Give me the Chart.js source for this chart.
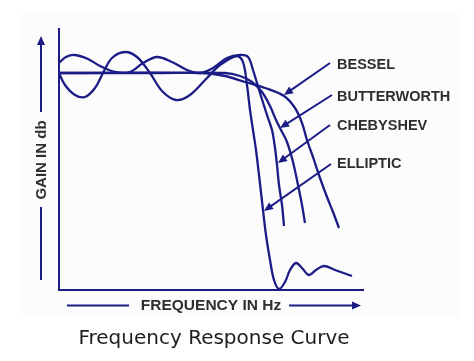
<!DOCTYPE html>
<html>
<head>
<meta charset="utf-8">
<script src="https://cdn.jsdelivr.net/npm/chart.js@4.4.1/dist/chart.umd.min.js"></script>
<style>
  body { margin: 0; background: #fff; }
  #wrap { width: 474px; height: 361px; }
</style>
</head>
<body>
<div id="wrap"><canvas id="chart"></canvas></div>
<script>
// values (frequency and gain in arbitrary units)
const curveNames = ["BESSEL", "BUTTERWORTH", "CHEBYSHEV", "ELLIPTIC"];

const besselFreq = [0, 141, 166, 186, 206, 225, 236, 243, 248, 255, 261, 268, 274, 280];
const besselGain = [217, 217, 214, 208, 202, 194, 182, 167, 150, 130, 112, 93, 78, 62];

const butterFreq = [0, 91, 166, 181, 193, 203, 211, 217, 222, 228, 234, 239, 243, 246];
const butterGain = [217, 217, 217, 214, 208, 198, 184, 170, 160, 148, 128, 105, 85, 67];

const chebyFreq = [0, 7, 16, 29, 41, 56, 71, 84, 98, 113, 128, 141, 154, 168, 181, 189,
                   194, 201, 208, 213, 216, 218, 220, 223, 225];
const chebyGain = [227, 233, 235, 231, 224, 218, 218, 227, 233, 228, 220, 217, 222, 232, 235, 233,
                   220, 197, 175, 160, 142, 125, 105, 85, 64];

const ellipFreq = [0, 6, 16, 26, 36, 44, 53, 66, 78, 91, 103, 117, 131, 148, 161, 178,
                   184, 188, 191, 194, 197, 200, 204, 207, 211, 215, 220,
                   226, 231, 237, 243, 250, 257, 265, 276, 293];
const ellipGain = [217, 205, 195, 193, 202, 217, 232, 238, 233, 217, 199, 190, 195, 212, 225, 234,
                   228, 205, 180, 160, 140, 115, 80, 55, 30, 10, 1,
                   8, 20, 27, 22, 15, 20, 24, 20, 14];

const NAVY = "#1c1c86";

function pts(xs, ys) {
  return xs.map((v, i) => ({ x: v, y: ys[i] }));
}

function line(data) {
  return {
    data,
    borderColor: NAVY,
    borderWidth: 2.3,
    pointRadius: 0,
    tension: 0.35,
    fill: false,
  };
}

// label / pointer layout: text anchor, pointer start and tip (tip in data units)
const pointers = [
  { ty: 65, sx: 330, sy: 63, tip: [225, 195] },
  { ty: 97, sx: 332, sy: 95, tip: [221, 162] },
  { ty: 126, sx: 330, sy: 125, tip: [219, 127] },
  { ty: 164, sx: 331, sy: 164, tip: [205, 79] },
];

function arrow(ctx, x1, y1, x2, y2, len, half) {
  const ang = Math.atan2(y2 - y1, x2 - x1);
  ctx.beginPath();
  ctx.moveTo(x1, y1);
  ctx.lineTo(x2 - Math.cos(ang) * len * 0.6, y2 - Math.sin(ang) * len * 0.6);
  ctx.stroke();
  ctx.beginPath();
  ctx.moveTo(x2, y2);
  ctx.lineTo(x2 - Math.cos(ang) * len - Math.sin(ang) * half, y2 - Math.sin(ang) * len + Math.cos(ang) * half);
  ctx.lineTo(x2 - Math.cos(ang) * len + Math.sin(ang) * half, y2 - Math.sin(ang) * len - Math.cos(ang) * half);
  ctx.closePath();
  ctx.fill();
}

const decor = {
  id: "decor",
  beforeDraw(chart) {
    const ctx = chart.ctx;
    ctx.save();
    ctx.fillStyle = "#fcfcfd";
    ctx.fillRect(22, 13, 437, 305);
    ctx.restore();
  },
  afterDraw(chart) {
    const { ctx, chartArea: a, scales: { x, y } } = chart;
    ctx.save();
    ctx.strokeStyle = NAVY;
    ctx.fillStyle = NAVY;
    ctx.lineWidth = 2;

    // axes
    ctx.beginPath();
    ctx.moveTo(a.left, a.top);
    ctx.lineTo(a.left, a.bottom);
    ctx.lineTo(a.right, a.bottom);
    ctx.stroke();

    // gain label with arrow
    const gx = a.left - 18;
    ctx.beginPath();
    ctx.moveTo(gx, a.bottom - 10);
    ctx.lineTo(gx, 207);
    ctx.stroke();
    arrow(ctx, gx, 112, gx, 36, 9, 4);
    ctx.save();
    ctx.translate(gx + 1, 160);
    ctx.rotate(-Math.PI / 2);
    ctx.fillStyle = "#2e2e2e";
    ctx.font = "bold 15px 'Liberation Sans', Arial, sans-serif";
    ctx.textAlign = "center";
    ctx.textBaseline = "middle";
    ctx.fillText("GAIN IN db", 0, 0);
    ctx.restore();

    // frequency label with arrow
    const fy = a.bottom + 15.5;
    ctx.beginPath();
    ctx.moveTo(67, fy);
    ctx.lineTo(129, fy);
    ctx.stroke();
    arrow(ctx, 289, fy, 361, fy, 9, 4);
    ctx.fillStyle = "#2e2e2e";
    ctx.font = "bold 15.5px 'Liberation Sans', Arial, sans-serif";
    ctx.textAlign = "center";
    ctx.textBaseline = "middle";
    ctx.fillText("FREQUENCY IN Hz", 211, fy);

    // curve names with pointers
    ctx.font = "bold 14.5px 'Liberation Sans', Arial, sans-serif";
    ctx.textAlign = "left";
    pointers.forEach((p, i) => {
      ctx.fillStyle = "#2e2e2e";
      ctx.fillText(curveNames[i], 337, p.ty);
      ctx.fillStyle = NAVY;
      arrow(ctx, p.sx, p.sy, x.getPixelForValue(p.tip[0]), y.getPixelForValue(p.tip[1]), 9, 4);
    });

    // caption
    ctx.fillStyle = "#1e1e1e";
    ctx.font = "20px 'DejaVu Sans', Verdana, sans-serif";
    ctx.textAlign = "center";
    ctx.textBaseline = "alphabetic";
    ctx.fillText("Frequency Response Curve", 214, 344);
    ctx.restore();
  },
};

new Chart(document.getElementById("chart"), {
  type: "line",
  data: {
    datasets: [
      line(pts(besselFreq, besselGain)),
      line(pts(butterFreq, butterGain)),
      line(pts(chebyFreq, chebyGain)),
      line(pts(ellipFreq, ellipGain)),
    ],
  },
  options: {
    responsive: true,
    maintainAspectRatio: false,
    animation: false,
    layout: { padding: { left: 59, right: 110, top: 28, bottom: 71 } },
    scales: {
      x: { type: "linear", min: 0, max: 305, display: false },
      y: { min: 0, max: 262, display: false },
    },
    plugins: { legend: { display: false }, tooltip: { enabled: false } },
    clip: false,
  },
  plugins: [decor],
});
</script>
</body>
</html>
